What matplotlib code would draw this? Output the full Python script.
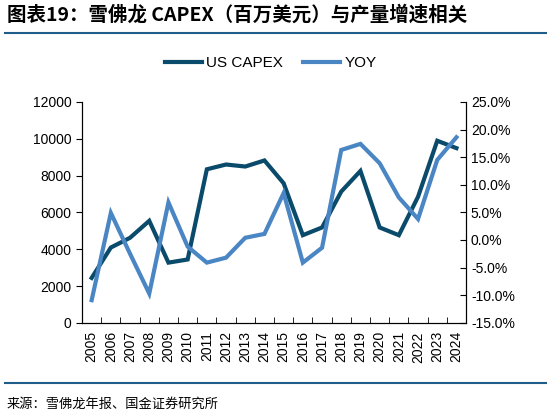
import matplotlib
matplotlib.use("Agg")
import matplotlib.pyplot as plt
from matplotlib.lines import Line2D
from matplotlib.ticker import FuncFormatter

plt.rcParams["font.family"] = ["Liberation Sans", "Noto Sans CJK SC", "DejaVu Sans"]

years = [str(y) for y in range(2005, 2025)]
capex = [2440, 4090, 4620, 5540, 3270, 3440, 8340, 8600, 8490, 8820,
         7580, 4760, 5180, 7130, 8250, 5180, 4760, 6850, 9890, 9490]
yoy = [-10.9, 4.9, -2.5, -9.7, 6.8, -1.2, -4.1, -3.2, 0.4, 1.1,
       8.5, -4.1, -1.4, 16.3, 17.4, 13.9, 7.7, 3.8, 14.5, 18.6]

dark = "#0A4A6B"
light = "#4A86C4"

fig = plt.figure(figsize=(5.47, 4.16), dpi=100)
ax = fig.add_axes([0.150, 0.224, 0.702, 0.531])
ax2 = ax.twinx()

x = list(range(len(years)))
ax.plot(x, capex, color=dark, lw=3, solid_joinstyle="miter")
ax2.plot(x, yoy, color=light, lw=3, solid_joinstyle="miter")

ax.set_xlim(-0.5, len(years) - 0.5)
ax.set_ylim(0, 12000)
ax.set_yticks(range(0, 12001, 2000))
ax2.set_ylim(-15, 25)
ax2.set_yticks(range(-15, 26, 5))
ax2.yaxis.set_major_formatter(FuncFormatter(lambda v, p: f"{v:.1f}%"))

ax.set_xticks(x)
ax.set_xticklabels(years, rotation=90)
ax.set_xticks([i + 0.5 for i in x], minor=True)
ax.tick_params(axis="x", which="major", length=0, labelsize=10, pad=6)
ax.tick_params(axis="x", which="minor", direction="in", length=4)
ax.tick_params(axis="y", direction="out", length=4, labelsize=10)
ax2.tick_params(axis="y", direction="in", length=4, labelsize=10)

for a in (ax, ax2):
    a.spines["top"].set_visible(False)

handles = [Line2D([], [], color=dark, lw=3), Line2D([], [], color=light, lw=3)]
fig.legend(handles, ["US CAPEX", "YOY"], loc="center", bbox_to_anchor=(0.495, 0.848),
           ncol=2, frameon=False, fontsize=11, handlelength=2.4, columnspacing=1.3,
           handletextpad=0.3)

fig.text(0.012, 0.965, "图表19：雪佛龙 CAPEX（百万美元）与产量增速相关",
         fontsize=14, fontweight="bold", style="italic", va="center",
         family=["Noto Sans CJK SC", "DejaVu Sans"])
fig.add_artist(Line2D([0.01, 1.0], [0.92, 0.92], color="#1F5C8A", lw=1.5))
fig.add_artist(Line2D([0.01, 1.0], [0.079, 0.079], color="#1F5C8A", lw=1.5))
fig.text(0.012, 0.027, "来源：雪佛龙年报、国金证券研究所", fontsize=9.5, va="center",
         family=["Noto Sans CJK SC", "DejaVu Sans"])

fig.savefig("out.png", dpi=100)
